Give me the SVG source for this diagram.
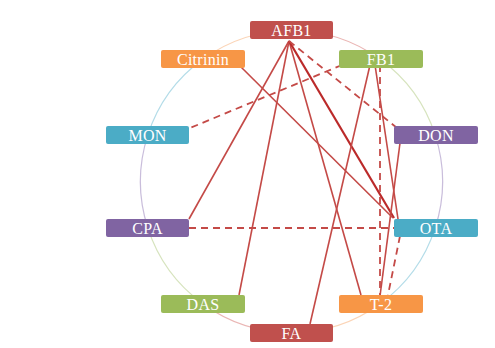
<svg xmlns="http://www.w3.org/2000/svg" width="495" height="348" viewBox="0 0 495 348">
<style>
.box{stroke:none}
.lbl{font-family:"Liberation Serif","DejaVu Serif",serif;font-size:16px;fill:#ffffff;text-anchor:middle;letter-spacing:0.3px}
.arc{fill:none;stroke-width:1.2;opacity:0.55}
.ln{stroke:#c44a47;stroke-width:1.6;fill:none}
.thick{stroke:#bb2a2a;stroke-width:2.2;fill:none}
.dash{stroke:#c44a47;stroke-width:1.8;stroke-dasharray:7 5;fill:none}
</style>
<rect width="495" height="348" fill="#ffffff"/>
<g id="ring">
<path class="arc" stroke="#d97a77" d="M291.5 30.5 A151 151 0 0 1 380.26 59.34"/>
<path class="arc" stroke="#b5cc86" d="M380.26 59.34 A151 151 0 0 1 435.11 134.84"/>
<path class="arc" stroke="#9d86bd" d="M435.11 134.84 A151 151 0 0 1 435.11 228.16"/>
<path class="arc" stroke="#74c0d5" d="M435.11 228.16 A151 151 0 0 1 380.26 303.66"/>
<path class="arc" stroke="#f8b07a" d="M380.26 303.66 A151 151 0 0 1 291.5 332.5"/>
<path class="arc" stroke="#d97a77" d="M291.5 332.5 A151 151 0 0 1 202.74 303.66"/>
<path class="arc" stroke="#b5cc86" d="M202.74 303.66 A151 151 0 0 1 147.89 228.16"/>
<path class="arc" stroke="#9d86bd" d="M147.89 228.16 A151 151 0 0 1 147.89 134.84"/>
<path class="arc" stroke="#74c0d5" d="M147.89 134.84 A151 151 0 0 1 202.74 59.34"/>
<path class="arc" stroke="#f8b07a" d="M202.74 59.34 A151 151 0 0 1 291.5 30.5"/>
</g>
<g id="connectors">
<line class="ln" x1="289" y1="41" x2="189" y2="219"/>
<line class="ln" x1="289" y1="41" x2="239" y2="295"/>
<line class="ln" x1="289" y1="41" x2="361" y2="295"/>
<line class="thick" x1="289" y1="41" x2="394" y2="218"/>
<line class="dash" x1="289" y1="41" x2="397" y2="128"/>
<line class="ln" x1="239" y1="65" x2="393" y2="218"/>
<line class="dash" x1="342" y1="65" x2="190" y2="128"/>
<line class="ln" x1="370" y1="65" x2="310" y2="324"/>
<line class="ln" x1="375" y1="65" x2="398" y2="219"/>
<line class="dash" x1="380" y1="65" x2="380" y2="295"/>
<line class="ln" x1="400" y1="143" x2="380" y2="296"/>
<line class="dash" x1="189" y1="228" x2="394" y2="228"/>
<line class="dash" x1="400" y1="236" x2="388" y2="295"/>
</g>
<g id="AFB1"><rect class="box" x="250" y="21" width="83" height="18" rx="2" fill="#c0504d"/><text class="lbl" x="291.5" y="35.5">AFB1</text></g>
<g id="Citrinin"><rect class="box" x="161" y="50" width="84" height="18" rx="2" fill="#f79646"/><text class="lbl" x="203" y="64.5">Citrinin</text></g>
<g id="FB1"><rect class="box" x="339" y="50" width="84" height="18" rx="2" fill="#9bbb59"/><text class="lbl" x="381" y="64.5">FB1</text></g>
<g id="MON"><rect class="box" x="106" y="126" width="83" height="18" rx="2" fill="#4bacc6"/><text class="lbl" x="147.5" y="140.5">MON</text></g>
<g id="DON"><rect class="box" x="394" y="126" width="84" height="18" rx="2" fill="#8064a2"/><text class="lbl" x="436" y="140.5">DON</text></g>
<g id="CPA"><rect class="box" x="106" y="219" width="83" height="18" rx="2" fill="#8064a2"/><text class="lbl" x="147.5" y="233.5">CPA</text></g>
<g id="OTA"><rect class="box" x="394" y="219" width="84" height="18" rx="2" fill="#4bacc6"/><text class="lbl" x="436" y="233.5">OTA</text></g>
<g id="DAS"><rect class="box" x="161" y="295" width="84" height="18" rx="2" fill="#9bbb59"/><text class="lbl" x="203" y="309.5">DAS</text></g>
<g id="T-2"><rect class="box" x="339" y="295" width="84" height="18" rx="2" fill="#f79646"/><text class="lbl" x="381" y="309.5">T-2</text></g>
<g id="FA"><rect class="box" x="250" y="324" width="83" height="18" rx="2" fill="#c0504d"/><text class="lbl" x="291.5" y="338.5">FA</text></g>
</svg>
